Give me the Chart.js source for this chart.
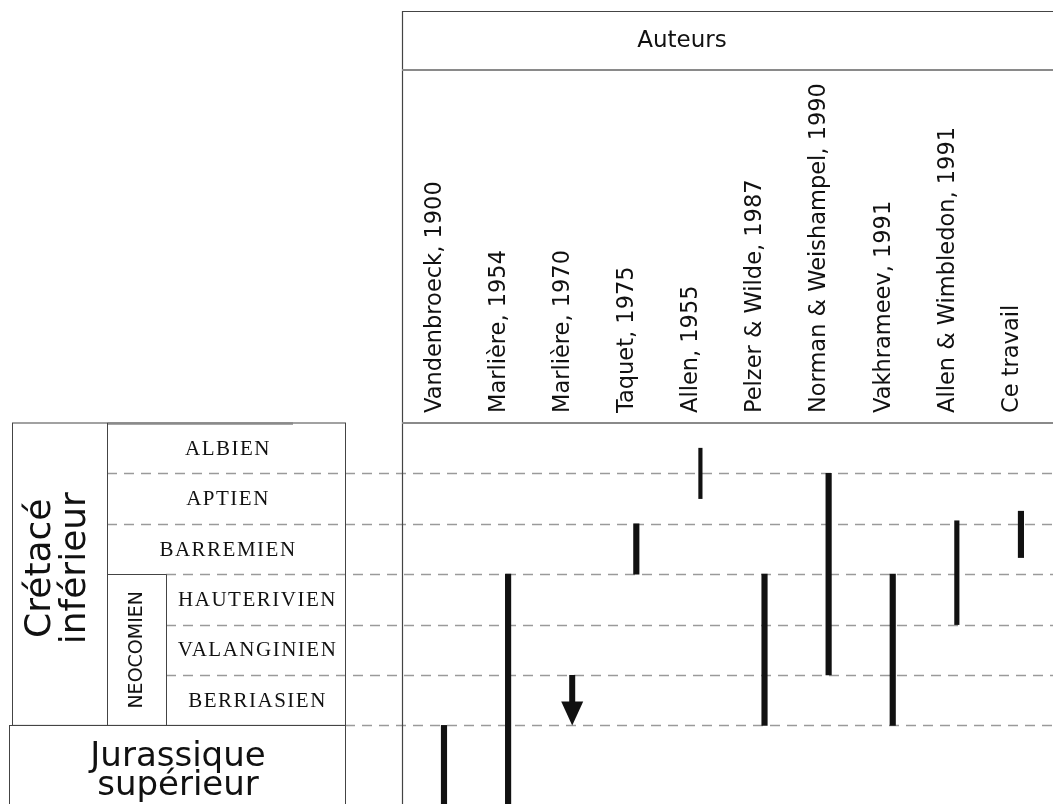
<!DOCTYPE html>
<html>
<head>
<meta charset="utf-8">
<script src="https://cdn.jsdelivr.net/npm/chart.js@4/dist/chart.umd.min.js"></script>
<style>
  html, body { margin: 0; padding: 0; background: #fff; }
  #wrap { width: 1053px; height: 804px; position: relative; }
</style>
</head>
<body>
<div id="wrap"><canvas id="rangeChart"></canvas></div>
<script>
// auteurs (colonnes)
const authors = [
    'Vandenbroeck, 1900', 'Marlière, 1954', 'Marlière, 1970', 'Taquet, 1975',
    'Allen, 1955', 'Pelzer & Wilde, 1987', 'Norman & Weishampel, 1990',
    'Vakhrameev, 1991', 'Allen & Wimbledon, 1991', 'Ce travail'
];

// étages, de bas en haut (chaque étage = 1 unité sur l'axe y)
const stages = ['BERRIASIEN', 'VALANGINIEN', 'HAUTERIVIEN', 'BARREMIEN', 'APTIEN', 'ALBIEN'];

// extension stratigraphique de chaque auteur (bas / haut), null = flèche
const rangeLow  = [-2, -2, null, 3, 4.5, 0, 1, 0, 2, 3.33];
const rangeHigh = [ 0,  3, null, 4, 5.5, 3, 5, 3, 4.06, 4.25];

// flèche (Marlière, 1970) : du haut vers le bas
const arrowAuthor = 2;
const arrowFrom = 1;
const arrowTo = 0;

// épaisseur des traits
const thinBars = { 'Allen, 1955': 3.5, 'Allen & Wimbledon, 1991': 4.5 };
const defaultBar = 5.5;

const LINE = '#444';
const GRAY = '#8a8a8a';

// groupe les barres par épaisseur
function buildDatasets() {
    const groups = {};
    authors.forEach((a, i) => {
        if (rangeLow[i] === null) return;
        const w = thinBars[a] || defaultBar;
        if (!groups[w]) groups[w] = [];
        groups[w].push({ x: i, y: [rangeLow[i], rangeHigh[i]] });
    });
    return Object.keys(groups).map(w => ({
        data: groups[w],
        backgroundColor: '#111',
        borderWidth: 0,
        barThickness: Number(w),
        grouped: false
    }));
}

function hline(ctx, x1, x2, y, color, width) {
    ctx.beginPath();
    ctx.strokeStyle = color;
    ctx.lineWidth = width;
    ctx.moveTo(x1, y);
    ctx.lineTo(x2, y);
    ctx.stroke();
}

function vline(ctx, x, y1, y2, color, width) {
    ctx.beginPath();
    ctx.strokeStyle = color;
    ctx.lineWidth = width;
    ctx.moveTo(x, y1);
    ctx.lineTo(x, y2);
    ctx.stroke();
}

function rotatedText(ctx, text, x, y, align) {
    ctx.save();
    ctx.translate(x, y);
    ctx.rotate(-Math.PI / 2);
    ctx.textAlign = align;
    ctx.textBaseline = 'middle';
    ctx.fillText(text, 0, 0);
    ctx.restore();
}

const framePlugin = {
    id: 'frame',
    beforeDatasetsDraw(chart) {
        const ctx = chart.ctx;
        const xs = chart.scales.x;
        const ys = chart.scales.y;
        const area = chart.chartArea;
        const W = chart.width;
        const H = chart.height;
        const top = ys.getPixelForValue(stages.length);
        const base = ys.getPixelForValue(0);
        const neoTop = ys.getPixelForValue(3);

        ctx.save();

        // lignes pointillées des limites d'étages
        ctx.setLineDash([10, 7]);
        for (let b = 1; b < stages.length; b++) {
            const start = b >= 4 ? 107 : 166;
            hline(ctx, start, W, Math.round(ys.getPixelForValue(b)) + 0.5, '#9a9a9a', 1.5);
        }
        hline(ctx, 345, W, Math.round(base) + 0.5, '#9a9a9a', 1.5);
        ctx.setLineDash([]);

        // panneau droit : auteurs
        vline(ctx, area.left + 0.5, 11, H, LINE, 1.2);
        hline(ctx, area.left, W, 11.5, LINE, 1.2);
        hline(ctx, area.left, W, 70, GRAY, 2);
        hline(ctx, area.left, W, top, GRAY, 2);

        ctx.fillStyle = '#111';
        ctx.font = '23px "DejaVu Sans"';
        ctx.textAlign = 'center';
        ctx.textBaseline = 'middle';
        ctx.fillText('Auteurs', 682, 41);

        ctx.font = '22.5px "DejaVu Sans"';
        authors.forEach((a, i) => {
            rotatedText(ctx, a, xs.getPixelForValue(i) - 9, 413, 'left');
        });

        // panneau gauche : échelle stratigraphique
        ctx.strokeStyle = LINE;
        ctx.lineWidth = 1;
        ctx.strokeRect(12.5, top, 333, base - top);
        hline(ctx, 107, 293, top + 0.5, GRAY, 2.5);
        vline(ctx, 107.5, top, base, LINE, 1);
        hline(ctx, 107, 166, Math.round(neoTop) + 0.5, LINE, 1);
        vline(ctx, 166.5, neoTop, base, LINE, 1);
        // Jurassique
        hline(ctx, 9, 345, Math.round(base) + 0.5, LINE, 1.2);
        vline(ctx, 9.5, base, H, LINE, 1);
        vline(ctx, 345.5, base, H, LINE, 1);

        // noms des étages
        ctx.font = '21px "Liberation Serif"';
        ctx.letterSpacing = '1.5px';
        ctx.textAlign = 'center';
        ctx.textBaseline = 'middle';
        stages.forEach((s, i) => {
            const yc = ys.getPixelForValue(i + 0.5);
            const xc = i < 3 ? (166 + 345) / 2 : (107 + 345) / 2;
            ctx.fillText(s, xc + 2, yc + 1);
        });
        ctx.letterSpacing = '0px';

        ctx.font = '19px "DejaVu Sans"';
        rotatedText(ctx, 'NEOCOMIEN', 137, (neoTop + base) / 2, 'center');

        ctx.font = '36px "DejaVu Sans"';
        const cy = (top + base) / 2 - 6;
        rotatedText(ctx, 'Crétacé', 41, cy, 'center');
        rotatedText(ctx, 'inférieur', 76, cy, 'center');

        ctx.font = '34px "DejaVu Sans"';
        ctx.textAlign = 'center';
        ctx.textBaseline = 'middle';
        ctx.fillText('Jurassique', 178, base + 32);
        ctx.fillText('supérieur', 178, base + 61);

        ctx.restore();
    },
    afterDatasetsDraw(chart) {
        // flèche vers le bas
        const ctx = chart.ctx;
        const x = chart.scales.x.getPixelForValue(arrowAuthor);
        const y1 = chart.scales.y.getPixelForValue(arrowFrom);
        const y2 = chart.scales.y.getPixelForValue(arrowTo);
        const head = 24;
        ctx.save();
        ctx.fillStyle = '#111';
        ctx.fillRect(x - 3, y1, 6, (y2 - y1) - head + 1);
        ctx.beginPath();
        ctx.moveTo(x - 11, y2 - head);
        ctx.lineTo(x + 11, y2 - head);
        ctx.lineTo(x, y2);
        ctx.closePath();
        ctx.fill();
        ctx.restore();
    }
};

new Chart(document.getElementById('rangeChart'), {
    type: 'bar',
    data: { datasets: buildDatasets() },
    options: {
        responsive: true,
        maintainAspectRatio: false,
        animation: false,
        layout: { padding: { left: 402, top: 423, right: 0, bottom: 0 } },
        plugins: {
            legend: { display: false },
            tooltip: { enabled: false }
        },
        scales: {
            x: { type: 'linear', offset: false, min: -0.655, max: 9.5, display: false },
            y: { type: 'linear', min: -1.56, max: 6, display: false }
        }
    },
    plugins: [framePlugin]
});
</script>
</body>
</html>
